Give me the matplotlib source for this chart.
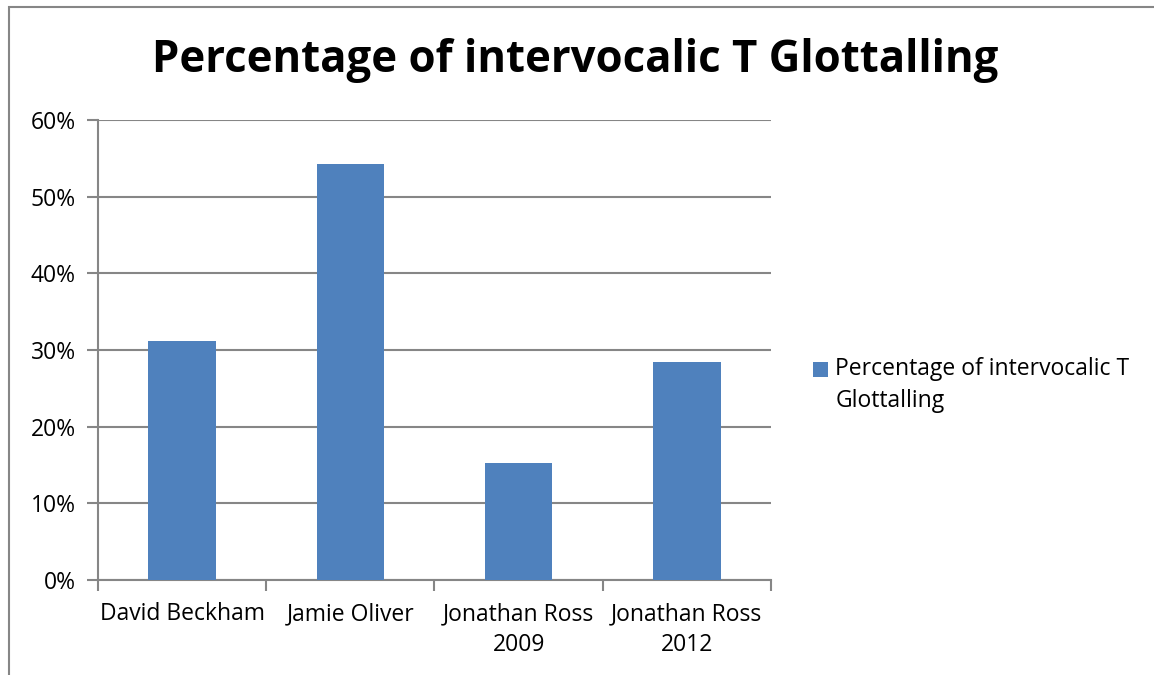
import numpy as np
import matplotlib.pyplot as plt
from matplotlib.patches import Rectangle
from matplotlib.ticker import FuncFormatter

plt.rcParams['font.family'] = ['Open Sans', 'DejaVu Sans']

# data
speakers = ['David Beckham', 'Jamie Oliver', 'Jonathan Ross\n2009', 'Jonathan Ross\n2012']
glottal_pct = [0.312, 0.542, 0.152, 0.284]
series_name = 'Percentage of intervocalic T\nGlottalling'
title = 'Percentage of intervocalic T Glottalling'

grey = '#868686'
blue = '#4F81BD'

fig = plt.figure(figsize=(11.54, 6.75), dpi=100)

# outer chart frame (runs off the right and bottom edges)
fig.patches.append(Rectangle((9 / 1154, -0.1), 1.2, 0.1 + (675 - 7) / 675,
                             transform=fig.transFigure, fill=False,
                             edgecolor=grey, linewidth=1.5))

ax = fig.add_axes([98 / 1154, 95 / 675, 673 / 1154, 460 / 675])

x = np.arange(len(speakers))
ax.bar(x, glottal_pct, width=0.4, color=blue, zorder=3, label=series_name)

ax.set_xlim(-0.5, len(speakers) - 0.5)
ax.set_ylim(0, 0.6)
ax.set_yticks(np.arange(0, 0.61, 0.1))
ax.yaxis.set_major_formatter(FuncFormatter(lambda v, p: f'{v * 100:.0f}%'))
ax.grid(axis='y', color=grey, linewidth=1.5, zorder=0)

# category labels between boundary ticks
ax.set_xticks(np.arange(-0.5, len(speakers), 1.0))
ax.set_xticklabels([])
ax.set_xticks(x, minor=True)
ax.set_xticklabels(speakers, minor=True, fontsize=16.5, linespacing=1.4)
ax.tick_params(axis='x', which='minor', length=0, pad=16)
ax.tick_params(axis='x', which='major', length=8, color=grey, width=1.5)
ax.tick_params(axis='y', length=8, color=grey, width=1.5, labelsize=16.5, pad=8)

for s in ['top', 'right']:
    ax.spines[s].set_visible(False)
for s in ['left', 'bottom']:
    ax.spines[s].set_color(grey)
    ax.spines[s].set_linewidth(1.5)

fig.text(0.498, 0.911, title, ha='center', va='center', fontsize=31.5, fontweight='bold')

leg = fig.legend(loc='center left', bbox_to_anchor=(802 / 1154, (675 - 385) / 675),
                 frameon=False, fontsize=16.5, handlelength=0.65, handleheight=0.65,
                 handletextpad=0.3, borderpad=0, labelspacing=0)
for t in leg.get_texts():
    t.set_linespacing(1.4)
# Excel puts the swatch next to the first line of the label
swatch = leg.legend_handles[0]
swatch.set_y(swatch.get_y() + 12)

fig.savefig('out.png', dpi=100)
